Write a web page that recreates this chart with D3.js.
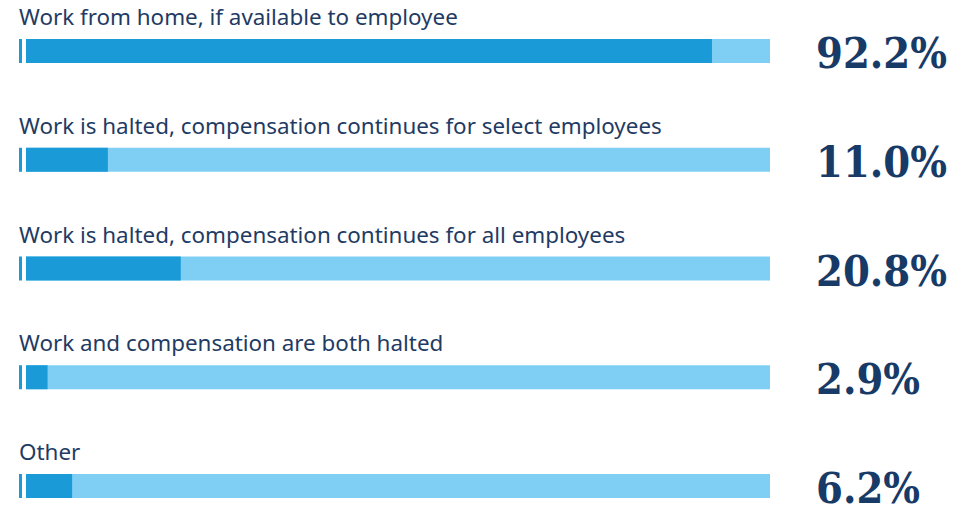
<!DOCTYPE html>
<html>
<script src='https://cdn.jsdelivr.net/npm/d3@7'></script>
<style>
body {margin: 0; background: #fff;}
.label {font-family: 'Noto Sans', sans-serif; font-size: 22.4px; fill: #1f3b64;}
.pct {font-family: 'DejaVu Serif Condensed', 'DejaVu Serif', serif; font-stretch: condensed; font-weight: bold; font-size: 43px; fill: #183a66;}
</style>
<body onload='init()'>
<script>
var categories = [
  'Work from home, if available to employee',
  'Work is halted, compensation continues for select employees',
  'Work is halted, compensation continues for all employees',
  'Work and compensation are both halted',
  'Other'
];
var values = [92.2, 11.0, 20.8, 2.9, 6.2];
var pctLabels = ['92.2%', '11.0%', '20.8%', '2.9%', '6.2%'];

function init() {
  var data = categories.map(function(c, i) {
    return {cat: c, val: values[i], lab: pctLabels[i]};
  });

  var svg = d3.select('body')
    .append('svg')
    .attr('width', 980)
    .attr('height', 505);

  var x = d3.scaleLinear().domain([0, 100]).range([26, 770]);
  var y = d3.scalePoint().domain(categories).range([39, 474]);
  var barH = 24;

  var row = svg.selectAll('g.row')
    .data(data)
    .enter()
    .append('g')
    .attr('class', 'row')
    .attr('transform', function(d) { return 'translate(0,' + y(d.cat) + ')'; });

  // small marker left of bar
  row.append('rect')
    .attr('x', 19)
    .attr('y', 0)
    .attr('width', 3)
    .attr('height', barH)
    .attr('fill', '#1a9bd7');

  // background (full scale)
  row.append('rect')
    .attr('x', x(0))
    .attr('y', 0)
    .attr('width', x(100) - x(0))
    .attr('height', barH)
    .attr('fill', '#7fcff5');

  // value bar
  row.append('rect')
    .attr('x', x(0))
    .attr('y', 0)
    .attr('width', function(d) { return x(d.val) - x(0); })
    .attr('height', barH)
    .attr('fill', '#1a9bd7');

  row.append('text')
    .attr('class', 'label')
    .attr('x', 19)
    .attr('y', -14)
    .text(function(d) { return d.cat; });

  row.append('text')
    .attr('class', 'pct')
    .attr('x', 816)
    .attr('y', 29)
    .text(function(d) { return d.lab; });
}
</script>
</body>
</html>
